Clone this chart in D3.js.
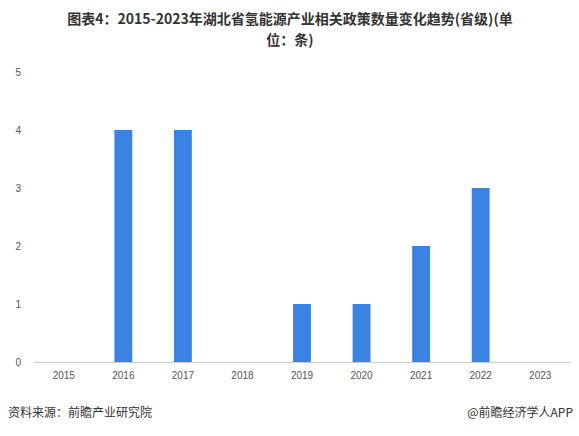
<!DOCTYPE html>
<html><head><meta charset="utf-8">
<script src="https://cdn.jsdelivr.net/npm/d3@7/dist/d3.min.js"></script>
<style>body{margin:0;background:#fff;font-family:"Noto Sans CJK SC","Noto Sans",sans-serif;}</style>
</head><body><svg id="c" width="579" height="436"></svg>
<script>
const years=["2015","2016","2017","2018","2019","2020","2021","2022","2023"];
const counts=[0,4,4,0,1,1,2,3,0];
const yTicks=[0,1,2,3,4,5];
const svg=d3.select("#c");
const x=d3.scaleBand().domain(years).range([34,570]).paddingInner(0.7).paddingOuter(0.35);
const y=d3.scaleLinear().domain([0,5]).range([362,72]);
svg.append("text").attr("x",290).attr("y",24).attr("text-anchor","middle").attr("font-size",14).attr("font-weight","bold").attr("fill","#333").text("图表4：2015-2023年湖北省氢能源产业相关政策数量变化趋势(省级)(单");
svg.append("text").attr("x",290).attr("y",45).attr("text-anchor","middle").attr("font-size",14).attr("font-weight","bold").attr("fill","#333").text("位：条)");
svg.selectAll("rect.b").data(years).enter().append("rect").attr("class","b")
 .attr("x",d=>x(d)).attr("width",x.bandwidth())
 .attr("y",(d,i)=>y(counts[i])).attr("height",(d,i)=>y(0)-y(counts[i])).attr("fill","#3a83e2");
const ya=svg.append("g").attr("transform","translate(24,0)").call(d3.axisLeft(y).tickValues(yTicks).tickSize(0).tickFormat(d3.format("d")));
ya.select(".domain").remove();
ya.selectAll("text").attr("fill","#555").attr("font-size",10);
const xa=svg.append("g").attr("transform","translate(0,362)").call(d3.axisBottom(x).tickSize(0).tickPadding(10));
xa.select(".domain").attr("stroke","#ccc").attr("d","M34,0.5H570");
xa.selectAll("text").attr("fill","#555").attr("font-size",10);
svg.append("text").attr("x",8).attr("y",417).attr("font-size",12).attr("fill","#333").text("资料来源：前瞻产业研究院");
svg.append("text").attr("x",573).attr("y",417).attr("text-anchor","end").attr("font-size",12).attr("fill","#333").text("@前瞻经济学人APP");
</script></body></html>
